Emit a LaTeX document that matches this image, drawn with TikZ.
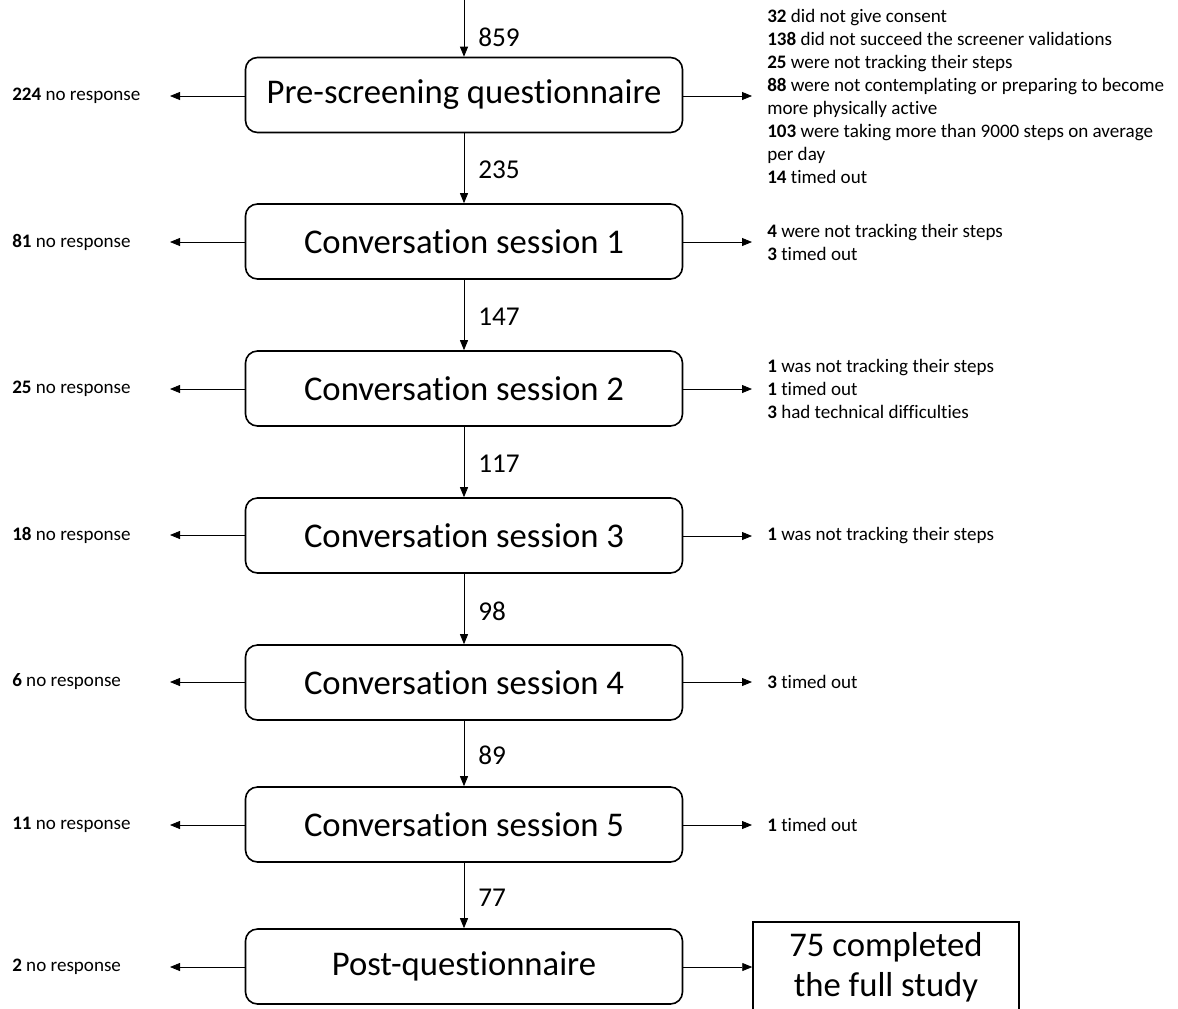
\documentclass[tikz,border=0pt]{standalone}
\usepackage{fontspec}
\setmainfont{Carlito}[Ligatures=NoCommon]
\usetikzlibrary{arrows.meta}
\begin{document}
\begin{tikzpicture}[x=0.75pt,y=-0.75pt,
  stage/.style={draw,line width=1.2pt,rounded corners=9pt,minimum width=437*0.75pt,minimum height=75*0.75pt,inner sep=0pt,font=\fontsize{26}{30}\selectfont},
  final/.style={draw,line width=1.1pt,minimum width=266*0.75pt,minimum height=90*0.75pt,inner sep=0pt,align=center,font=\fontsize{26}{30}\selectfont},
  arr/.style={line width=0.6pt,-{Triangle[length=7.5pt,width=6pt]}},
  cnt/.style={anchor=west,inner sep=0pt,font=\fontsize{20.4}{24}\selectfont},
  side/.style={anchor=west,inner sep=0pt,align=left,font=\fontsize{14.3}{17.25}\selectfont},
]
\useasboundingbox (0,0) rectangle (1178,1008);
\clip (0,0) rectangle (1178,1008);
\coordinate (top) at (464,0);
\node[stage] (s1) at (464,95) {Pre-screening questionnaire};
\node[stage] (s2) at (464,241.5) {Conversation session 1};
\node[stage] (s3) at (464,388.5) {Conversation session 2};
\node[stage] (s4) at (464,535.5) {Conversation session 3};
\node[stage] (s5) at (464,682.5) {Conversation session 4};
\node[stage] (s6) at (464,824.5) {Conversation session 5};
\node[stage] (s7) at (464,966.5) {Post-questionnaire};
\node[final] (fin) at (886,967) {75 completed\\the full study};

\draw[arr] (top) -- (s1.north) node[cnt,pos=0.66,xshift=14*0.75pt] (n0) {859};
\draw[arr] (s1) -- (s2) node[cnt,midway,xshift=14*0.75pt,yshift=-1.5pt] (n1) {235};
\draw[arr] (s2) -- (s3) node[cnt,midway,xshift=14*0.75pt,yshift=-1.5pt] (n2) {147};
\draw[arr] (s3) -- (s4) node[cnt,midway,xshift=14*0.75pt,yshift=-1.5pt] (n3) {117};
\draw[arr] (s4) -- (s5) node[cnt,midway,xshift=14*0.75pt,yshift=-1.5pt] (n4) {98};
\draw[arr] (s5) -- (s6) node[cnt,midway,xshift=14*0.75pt,yshift=-1.5pt] (n5) {89};
\draw[arr] (s6) -- (s7) node[cnt,midway,xshift=14*0.75pt,yshift=-1.5pt] (n6) {77};

\foreach \i/\n/\y in {1/224/96,2/81/242,3/25/389,4/18/535,5/6/682,6/11/825,7/2/967}{
  \coordinate (l\i) at (170,\y);
  \node[side] (lt\i) at (12,\y) {\textbf{\n} no response};
  \draw[arr] (s\i.west |- l\i) -- (l\i);
}

\coordinate (r1) at (752,96);
\coordinate (r2) at (752,242);
\coordinate (r3) at (752,389);
\coordinate (r4) at (752,536);
\coordinate (r5) at (752,682);
\coordinate (r6) at (752,825);
\foreach \i in {1,...,6}{\draw[arr] (s\i.east |- r\i) -- (r\i);}
\draw[arr] (s7.east |- fin.west) -- (fin.west);

\node[side] (rt1) at (767,96) {\textbf{32} did not give consent\\\textbf{138} did not succeed the screener validations\\\textbf{25} were not tracking their steps\\\textbf{88} were not contemplating or preparing to become\\more physically active\\\textbf{103} were taking more than 9000 steps on average\\per day\\\textbf{14} timed out};
\node[side] (rt2) at (767,242.5) {\textbf{4} were not tracking their steps\\\textbf{3} timed out};
\node[side] (rt3) at (767,389) {\textbf{1} was not tracking their steps\\\textbf{1} timed out\\\textbf{3} had technical difficulties};
\node[side] (rt4) at (767,536) {\textbf{1} was not tracking their steps};
\node[side] (rt5) at (767,682) {\textbf{3} timed out};
\node[side] (rt6) at (767,825) {\textbf{1} timed out};
\end{tikzpicture}
\end{document}
